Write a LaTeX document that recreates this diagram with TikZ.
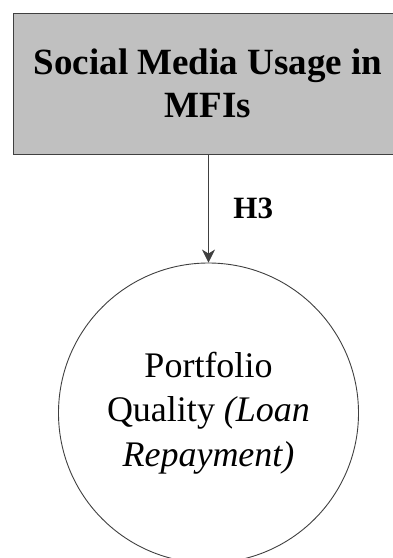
\documentclass[tikz,border=0pt]{standalone}
\usepackage{fontspec}
\setmainfont{Liberation Serif}
\usetikzlibrary{arrows.meta}
\definecolor{boxfill}{RGB}{192,192,192}
\definecolor{edge}{RGB}{64,64,64}
\begin{document}
\begin{tikzpicture}[x=1pt,y=1pt,
  construct/.style={draw=edge, line width=0.9pt, fill=boxfill,
    minimum width=390pt, minimum height=141pt, inner sep=0pt,
    align=center, font=\fontsize{37}{43}\selectfont\bfseries},
  outcome/.style={circle, draw=edge, line width=0.9pt,
    minimum size=300pt, inner sep=0pt, align=center,
    font=\fontsize{36}{44.5}\selectfont},
  link/.style={draw=edge, line width=0.9pt,
    -{Stealth[width=13pt,length=13pt,inset=4pt]}},
  hyp/.style={inner sep=0pt, font=\fontsize{31}{36}\selectfont\bfseries}]
\useasboundingbox (0,0) rectangle (393,-558);
\clip (0,0) rectangle (393,-558);
\node[construct] (usage) at (208,-83.5) {Social Media Usage in\\MFIs};
\node[outcome] (quality) at (208.5,-413) {Portfolio\\Quality \textit{(Loan}\\\textit{Repayment)}};
\draw[link] (usage.south -| quality.north) -- node[hyp, pos=0.596, anchor=base west, xshift=24.5pt] {H3} (quality.north);
\end{tikzpicture}
\end{document}
